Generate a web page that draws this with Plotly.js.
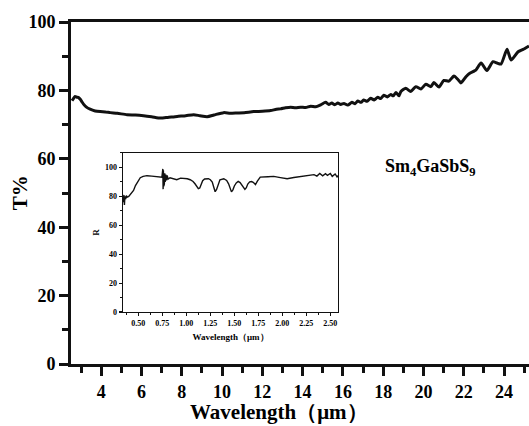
<!DOCTYPE html>
<html>
<head>
<meta charset="utf-8">
<script src="https://cdn.plot.ly/plotly-3.0.1.min.js"></script>
<style>html,body{margin:0;padding:0;background:#fff}#chart{width:529px;height:426px}</style>
</head>
<body>
<div id="chart"></div>
<script>
// Main transmittance spectrum (wavelength in µm, T%)
const mainWavelength = [2.55,2.62,2.70,2.79,2.88,2.96,3.05,3.12,3.25,3.45,3.70,3.95,4.20,4.45,4.80,5.28,5.70,6.10,6.50,6.94,7.30,7.77,8.20,8.59,8.90,9.26,9.60,10.08,10.40,10.75,11.10,11.57,12.00,12.41,12.70,12.90,13.15,13.40,13.65,13.90,14.15,14.40,14.65,14.90,15.14,15.30,15.45,15.60,15.75,15.89,16.05,16.24,16.45,16.60,16.74,16.90,17.03,17.20,17.38,17.55,17.73,17.88,18.03,18.20,18.38,18.50,18.63,18.78,18.88,19.12,19.37,19.62,19.87,20.12,20.37,20.52,20.77,21.01,21.26,21.51,21.71,21.86,22.11,22.30,22.46,22.60,22.86,23.15,23.45,23.65,23.85,24.15,24.35,24.70,24.95,25.24];
const mainT = [77.0,77.6,78.2,78.0,77.9,77.4,76.6,76.0,75.2,74.5,74.0,73.8,73.7,73.5,73.3,72.9,72.8,72.6,72.3,71.9,72.1,72.4,72.6,72.9,72.6,72.3,72.8,73.5,73.3,73.4,73.5,73.8,73.9,74.1,74.5,74.6,74.9,75.1,74.9,75.1,75.0,75.4,75.2,75.8,76.5,75.9,76.3,75.8,76.3,75.9,76.2,75.7,76.5,76.1,76.9,76.5,77.2,76.8,77.7,77.2,78.0,77.6,78.6,78.1,78.8,78.4,79.4,78.4,79.7,80.6,79.7,81.1,80.4,81.8,81.1,82.3,81.0,82.9,82.7,84.2,83.2,82.2,84.0,85.0,85.5,85.9,88.0,85.8,88.4,88.0,87.7,92.0,88.9,91.3,92.0,93.0];

// Inset reflectance spectrum (wavelength in µm, R)
const insetWavelength = [0.340,0.345,0.350,0.355,0.360,0.368,0.375,0.385,0.40,0.42,0.45,0.47,0.49,0.52,0.55,0.59,0.64,0.69,0.72,0.745,0.750,0.752,0.755,0.758,0.761,0.764,0.767,0.771,0.775,0.780,0.786,0.793,0.80,0.81,0.83,0.87,0.90,0.94,0.97,1.01,1.04,1.07,1.09,1.11,1.125,1.14,1.155,1.17,1.19,1.23,1.25,1.27,1.285,1.30,1.315,1.33,1.35,1.39,1.42,1.44,1.455,1.47,1.485,1.50,1.52,1.54,1.56,1.58,1.60,1.61,1.625,1.64,1.66,1.68,1.70,1.72,1.74,1.77,1.85,1.91,1.98,2.05,2.12,2.19,2.26,2.33,2.36,2.39,2.42,2.45,2.47,2.50,2.52,2.55,2.57,2.59];
const insetR = [80.5,76,81,74,80,78,80.5,79.5,80,81.9,84.1,87.5,89.9,92.9,93.8,94.3,94.0,93.8,93.5,93.2,96,86,99,85,98,87,97,88.5,96,90,95,91,94.5,92,92.9,92,91.5,92.6,92.6,92.2,91.5,90.3,88.7,86.8,85.4,85.8,88.3,90.8,92.0,92.2,91.5,89.9,86.5,83.2,84.8,88.5,91.5,92.2,91.0,88.7,85.5,83.1,84.5,87.2,89.3,90.3,89.5,87.6,85.5,84.8,86.0,88.5,90.0,90.3,89.5,88.1,90.5,93.3,93.6,93.8,93.0,92.2,93.0,93.8,94.3,95.0,94,95.8,94.2,95.7,94.5,95.8,93.8,95.5,93.5,94.8];

const serif = 'Liberation Serif, Times New Roman, serif';
const bigFont = {family: serif, size: 18, color: '#000', weight: 700};
const smallFont = {family: serif, size: 8, color: '#000', weight: 700};

const traces = [
  {x: mainWavelength, y: mainT, type: 'scatter', mode: 'lines',
   line: {color: '#111', width: 3, shape: 'spline', smoothing: 0.6}, xaxis: 'x', yaxis: 'y', hoverinfo: 'skip'},
  {x: insetWavelength, y: insetR, type: 'scatter', mode: 'lines',
   line: {color: '#111', width: 1.4}, xaxis: 'x2', yaxis: 'y2', hoverinfo: 'skip'}
];

const layout = {
  width: 529, height: 426,
  margin: {l: 71, r: 0, t: 22, b: 62},
  paper_bgcolor: '#fff', plot_bgcolor: '#fff',
  showlegend: false,
  xaxis: {
    domain: [0, 1], range: [2.5, 25.24],
    tickmode: 'linear', tick0: 0, dtick: 2,
    ticks: 'outside', ticklen: 9, tickwidth: 3, tickcolor: '#111',
    minor: {tickmode: 'linear', tick0: 1, dtick: 1, ticks: 'outside', ticklen: 6, tickwidth: 3, tickcolor: '#111', showgrid: false},
    showline: true, linewidth: 3, linecolor: '#111', mirror: true,
    showgrid: false, zeroline: false,
    tickfont: bigFont
  },
  yaxis: {
    domain: [0, 1], range: [0, 100],
    tickmode: 'linear', tick0: 0, dtick: 20,
    ticks: 'outside', ticklen: 9, tickwidth: 3, tickcolor: '#111',
    minor: {tickmode: 'linear', tick0: 0, dtick: 10, ticks: 'outside', ticklen: 6, tickwidth: 3, tickcolor: '#111', showgrid: false},
    showline: true, linewidth: 3, linecolor: '#111', mirror: false,
    showgrid: false, zeroline: false,
    tickfont: bigFont
  },
  xaxis2: {
    anchor: 'y2', domain: [0.1135, 0.583], range: [0.34, 2.58],
    tickmode: 'linear', tick0: 0.5, dtick: 0.25, tickformat: '.2f',
    ticks: 'outside', ticklen: 3, tickwidth: 1.2, tickcolor: '#111',
    minor: {tickmode: 'linear', tick0: 0.5, dtick: 0.125, ticks: 'outside', ticklen: 2, tickwidth: 1, tickcolor: '#111', showgrid: false},
    showline: true, linewidth: 1.3, linecolor: '#111', mirror: true,
    showgrid: false, zeroline: false,
    tickfont: smallFont,
    title: {text: 'Wavelength（μm）', font: {family: serif, size: 9, color: '#000', weight: 700}, standoff: 6}
  },
  yaxis2: {
    anchor: 'x2', domain: [0.152, 0.617], range: [0, 110],
    tickmode: 'linear', tick0: 0, dtick: 20,
    ticks: 'outside', ticklen: 3, tickwidth: 1.2, tickcolor: '#111',
    minor: {tickmode: 'linear', tick0: 0, dtick: 10, ticks: 'outside', ticklen: 2, tickwidth: 1, tickcolor: '#111', showgrid: false},
    showline: true, linewidth: 1.3, linecolor: '#111', mirror: true,
    showgrid: false, zeroline: false,
    tickfont: smallFont,
    title: {text: 'R', font: {family: serif, size: 9, color: '#000', weight: 700}, standoff: 4}
  },
  annotations: [{
    xref: 'paper', yref: 'paper', x: 0.786, y: 0.575, xanchor: 'center', yanchor: 'middle',
    text: 'Sm<sub>4</sub>GaSbS<sub>9</sub>', showarrow: false,
    font: {family: serif, size: 18, color: '#000', weight: 700}
  }, {
    xref: 'paper', yref: 'paper', x: -0.111, y: 0.5, xanchor: 'center', yanchor: 'middle',
    text: 'T%', textangle: -90, showarrow: false,
    font: {family: serif, size: 21, color: '#000', weight: 700}
  }, {
    xref: 'paper', yref: 'paper', x: 0.455, y: -0.14, xanchor: 'center', yanchor: 'middle',
    text: 'Wavelength（μm）', showarrow: false,
    font: {family: serif, size: 21, color: '#000', weight: 700}
  }]
};

Plotly.newPlot('chart', traces, layout, {staticPlot: true, displayModeBar: false});
</script>
</body>
</html>
